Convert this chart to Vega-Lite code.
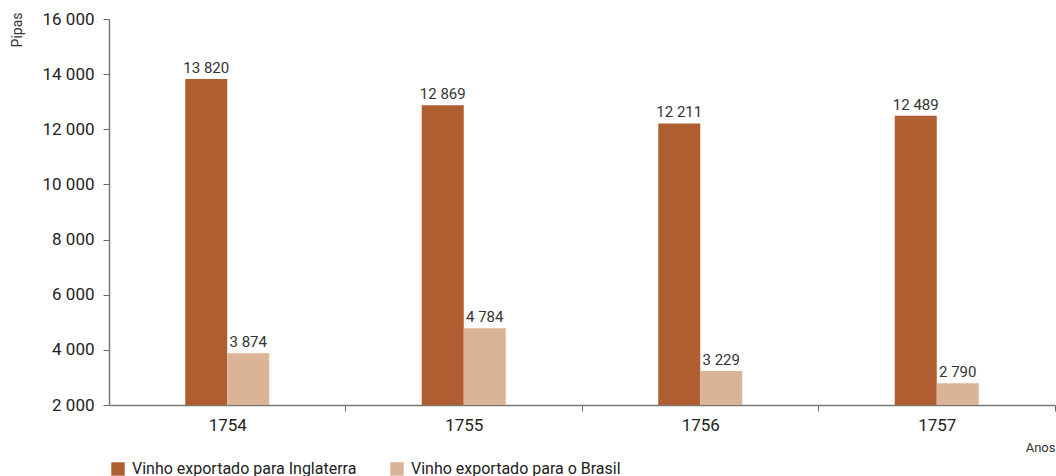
{
  "$schema": "https://vega.github.io/schema/vega-lite/v6.json",
  "width": 946,
  "height": 386,
  "autosize": "none",
  "padding": {"left": 109, "top": 19, "right": 1, "bottom": 71},
  "config": {
    "locale": {"number": {"decimal": ",", "thousands": " ", "grouping": [3], "currency": ["", ""]}},
    "view": {"stroke": null},
    "font": "Roboto, sans-serif"
  },
  "data": {
    "values": [
      {"ano": "1754", "serie": "Vinho exportado para Inglaterra", "pipas": 13820},
      {"ano": "1754", "serie": "Vinho exportado para o Brasil", "pipas": 3874},
      {"ano": "1755", "serie": "Vinho exportado para Inglaterra", "pipas": 12869},
      {"ano": "1755", "serie": "Vinho exportado para o Brasil", "pipas": 4784},
      {"ano": "1756", "serie": "Vinho exportado para Inglaterra", "pipas": 12211},
      {"ano": "1756", "serie": "Vinho exportado para o Brasil", "pipas": 3229},
      {"ano": "1757", "serie": "Vinho exportado para Inglaterra", "pipas": 12489},
      {"ano": "1757", "serie": "Vinho exportado para o Brasil", "pipas": 2790}
    ]
  },
  "encoding": {
    "x": {
      "field": "ano",
      "type": "nominal",
      "scale": {"paddingInner": 0.6448, "paddingOuter": 0.3224},
      "axis": {
        "title": "Anos",
        "titleFontSize": 13,
        "titleFontWeight": "normal",
        "titleColor": "#333",
        "titleAnchor": "end",
        "titleAlign": "right",
        "titleX": 946,
        "titleY": 42,
        "titleBaseline": "middle",
        "labelAngle": 0,
        "labelFontSize": 17,
        "labelColor": "#222",
        "labelPadding": 6,
        "tickBand": "center",
        "tickOffset": 118.25,
        "labelOffset": -118.25,
        "tickSize": 6,
        "tickColor": "#666",
        "domainColor": "#777",
        "domainWidth": 1.5
      }
    },
    "xOffset": {
      "field": "serie",
      "type": "nominal",
      "scale": {"paddingInner": 0, "paddingOuter": 0}
    },
    "y": {
      "field": "pipas",
      "type": "quantitative",
      "scale": {"domain": [2000, 16000], "nice": false, "zero": false},
      "axis": {
        "title": "Pipas",
        "titleFontSize": 14,
        "titleFontWeight": "normal",
        "titleColor": "#333",
        "titleAngle": -90,
        "titleAlign": "right",
        "titleBaseline": "middle",
        "titleX": -92,
        "titleY": -7,
        "values": [2000, 4000, 6000, 8000, 10000, 12000, 14000, 16000],
        "format": ",d",
        "labelFontSize": 17,
        "labelColor": "#222",
        "labelPadding": 9,
        "tickSize": 6,
        "tickColor": "#666",
        "domainColor": "#777",
        "domainWidth": 1.5,
        "grid": false
      }
    }
  },
  "layer": [
    {
      "mark": {"type": "bar"},
      "encoding": {
        "y2": {"datum": 2000},
        "color": {
          "field": "serie",
          "type": "nominal",
          "scale": {
            "domain": ["Vinho exportado para Inglaterra", "Vinho exportado para o Brasil"],
            "range": ["#AF5E31", "#DBB396"]
          },
          "legend": {
            "title": null,
            "orient": "none",
            "legendX": 1,
            "legendY": 442,
            "direction": "horizontal",
            "symbolType": "square",
            "symbolSize": 180,
            "symbolStrokeWidth": 0,
            "labelFontSize": 16,
            "labelColor": "#222",
            "labelOffset": 6,
            "columnPadding": 32,
            "labelLimit": 400
          }
        }
      }
    },
    {
      "mark": {"type": "text", "baseline": "bottom", "dy": -3, "fontSize": 15, "color": "#333"},
      "encoding": {
        "text": {"field": "pipas", "type": "quantitative", "format": ",d"}
      }
    }
  ]
}
